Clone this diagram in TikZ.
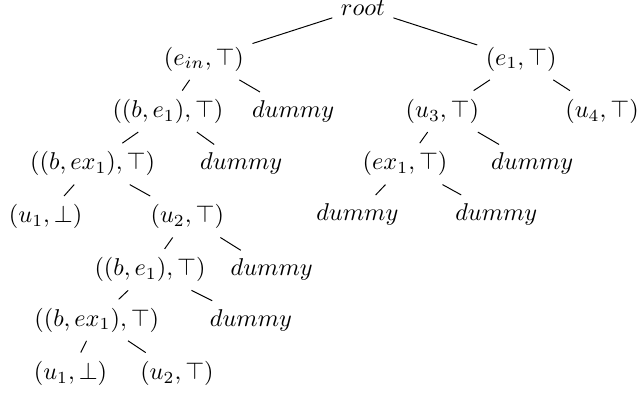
\documentclass[tikz,border=0pt]{standalone}
\usepackage{tikz}
\usetikzlibrary{positioning}

\begin{document}
\begin{tikzpicture}[
    on grid,
    state/.style={font=\normalsize},
    leaf/.style={font=\normalsize},
    arr/.style={thin, black},
]
\useasboundingbox (-5.25,0.116) rectangle (3.98,-5.615);

% Root
\node[state] (root) {$root$};

% Level 1
\node[state, below left=0.74cm and 2.30cm of root] (ein) {$(e_{in},\top)$};
\node[state, below right=0.74cm and 2.29cm of root] (eone) {$(e_1,\top)$};

% Level 2
\node[state, below left=0.755cm and 0.52cm of ein] (beone) {$((b,e_1),\top)$};
\node[leaf, below right=0.755cm and 1.29cm of ein] (dumA) {$dummy$};
\node[state, below left=0.755cm and 1.14cm of eone] (uthree) {$(u_3,\top)$};
\node[state, below right=0.755cm and 1.17cm of eone] (ufour) {$(u_4,\top)$};

% Level 3
\node[state, below left=0.76cm and 1.09cm of beone] (bexone) {$((b,ex_1),\top)$};
\node[leaf, below right=0.76cm and 1.06cm of beone] (dumB) {$dummy$};
\node[state, below left=0.76cm and 0.54cm of uthree] (exone) {$(ex_1,\top)$};
\node[leaf, below right=0.76cm and 1.30cm of uthree] (dumC) {$dummy$};

% Level 4
\node[state, below left=0.765cm and 0.68cm of bexone] (uoneA) {$(u_1,\bot)$};
\node[state, below right=0.765cm and 1.37cm of bexone] (utwoA) {$(u_2,\top)$};
\node[leaf, below left=0.73cm and 0.69cm of exone] (dumD) {$dummy$};
\node[leaf, below right=0.73cm and 1.32cm of exone] (dumE) {$dummy$};

% Level 5
\node[state, below left=0.765cm and 0.54cm of utwoA] (beoneB) {$((b,e_1),\top)$};
\node[leaf, below right=0.765cm and 1.22cm of utwoA] (dumF) {$dummy$};

% Level 6
\node[state, below left=0.73cm and 0.77cm of beoneB] (bexoneB) {$((b,ex_1),\top)$};
\node[leaf, below right=0.73cm and 1.46cm of beoneB] (dumG) {$dummy$};

% Level 7
\node[state, below left=0.77cm and 0.38cm of bexoneB] (uoneB) {$(u_1,\bot)$};
\node[state, below right=0.77cm and 1.16cm of bexoneB] (utwoB) {$(u_2,\top)$};

% Edges
\draw[arr] (root) -- (ein);
\draw[arr] (root) -- (eone);
\draw[arr] (ein) -- (beone);
\draw[arr] (ein) -- (dumA);
\draw[arr] (eone) -- (uthree);
\draw[arr] (eone) -- (ufour);
\draw[arr] (beone) -- (bexone);
\draw[arr] (beone) -- (dumB);
\draw[arr] (uthree) -- (exone);
\draw[arr] (uthree) -- (dumC);
\draw[arr] (bexone) -- (uoneA);
\draw[arr] (bexone) -- (utwoA);
\draw[arr] (exone) -- (dumD);
\draw[arr] (exone) -- (dumE);
\draw[arr] (utwoA) -- (beoneB);
\draw[arr] (utwoA) -- (dumF);
\draw[arr] (beoneB) -- (bexoneB);
\draw[arr] (beoneB) -- (dumG);
\draw[arr] (bexoneB) -- (uoneB);
\draw[arr] (bexoneB) -- (utwoB);

\end{tikzpicture}
\end{document}
